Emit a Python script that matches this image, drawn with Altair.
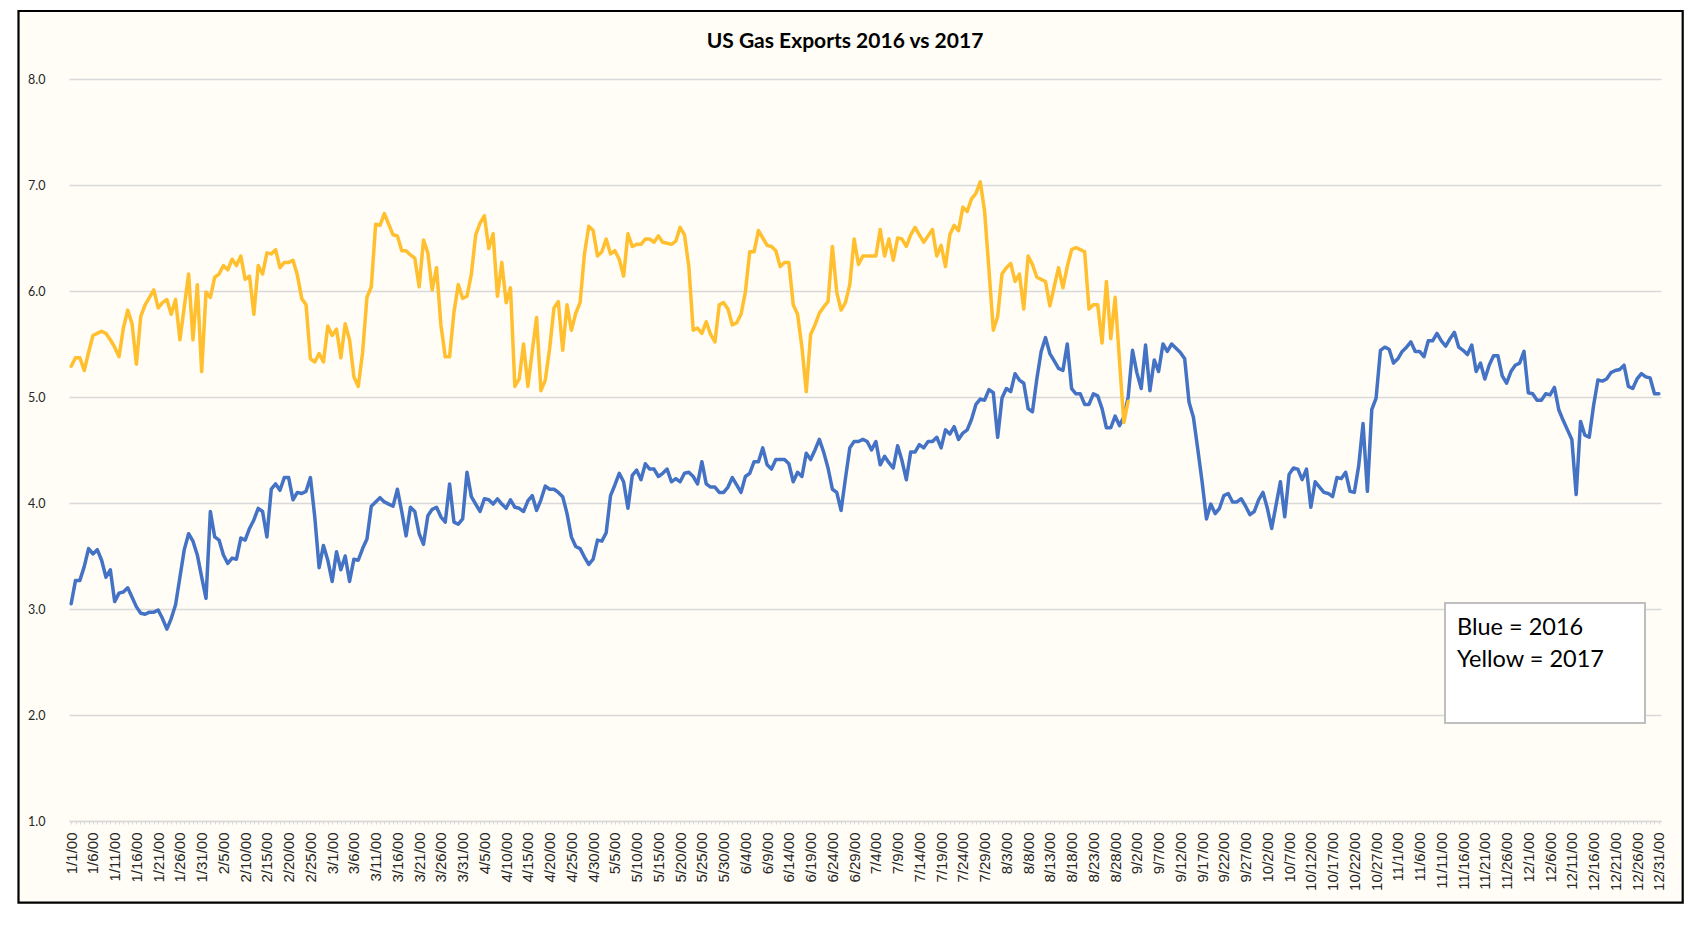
import json
import altair as alt
import pandas as pd

TITLE = "US Gas Exports 2016 vs 2017"
LEGEND_LINES = ["Blue = 2016", "Yellow = 2017"]

# Categories: one per day (Excel shows them as m/d/00)
DATES = [f"{d.month}/{d.day}/00" for d in pd.date_range("2000-01-01", "2000-12-31", freq="D")]
TICK_LABELS = DATES[::5]
Y_TICKS = [1, 2, 3, 4, 5, 6, 7, 8]

EXPORTS_2016 = [
    3.05, 3.27, 3.27, 3.40, 3.57, 3.52, 3.56, 3.46, 3.30, 3.37,
    3.07, 3.15, 3.16, 3.20, 3.11, 3.02, 2.96, 2.95, 2.97, 2.97,
    2.99, 2.91, 2.81, 2.91, 3.04, 3.30, 3.56, 3.71, 3.64, 3.51,
    3.30, 3.10, 3.92, 3.68, 3.65, 3.51, 3.43, 3.48, 3.47, 3.67,
    3.65, 3.76, 3.84, 3.95, 3.92, 3.68, 4.13, 4.18, 4.12, 4.24,
    4.24, 4.03, 4.10, 4.09, 4.11, 4.24, 3.87, 3.39, 3.60, 3.46,
    3.26, 3.54, 3.37, 3.50, 3.26, 3.47, 3.46, 3.57, 3.66, 3.97,
    4.01, 4.05, 4.01, 3.99, 3.97, 4.13, 3.92, 3.69, 3.96, 3.92,
    3.71, 3.61, 3.88, 3.94, 3.96, 3.87, 3.82, 4.18, 3.82, 3.80,
    3.85, 4.29, 4.06, 3.99, 3.92, 4.04, 4.03, 3.99, 4.04, 3.99,
    3.95, 4.03, 3.96, 3.95, 3.92, 4.02, 4.07, 3.93, 4.03, 4.16,
    4.13, 4.13, 4.10, 4.06, 3.90, 3.68, 3.59, 3.57, 3.49, 3.42,
    3.47, 3.65, 3.64, 3.72, 4.07, 4.17, 4.28, 4.20, 3.95, 4.26,
    4.31, 4.22, 4.37, 4.32, 4.32, 4.25, 4.28, 4.32, 4.20, 4.23,
    4.20, 4.28, 4.29, 4.25, 4.18, 4.39, 4.18, 4.15, 4.15, 4.10,
    4.10, 4.15, 4.24, 4.17, 4.10, 4.25, 4.28, 4.39, 4.39, 4.52,
    4.36, 4.32, 4.41, 4.41, 4.41, 4.37, 4.20, 4.29, 4.25, 4.47,
    4.41, 4.50, 4.60, 4.48, 4.33, 4.13, 4.10, 3.93, 4.23, 4.52,
    4.58, 4.58, 4.60, 4.58, 4.50, 4.58, 4.36, 4.44, 4.38, 4.33,
    4.54, 4.40, 4.22, 4.48, 4.48, 4.55, 4.52, 4.58, 4.58, 4.62,
    4.52, 4.69, 4.65, 4.72, 4.60, 4.66, 4.69, 4.79, 4.93, 4.98,
    4.97, 5.07, 5.04, 4.62, 4.99, 5.08, 5.05, 5.22, 5.16, 5.13,
    4.89, 4.86, 5.17, 5.43, 5.56, 5.41, 5.34, 5.27, 5.25, 5.50,
    5.08, 5.03, 5.03, 4.93, 4.93, 5.03, 5.01, 4.89, 4.71, 4.71,
    4.82, 4.73, 4.81, 5.00, 5.44, 5.23, 5.08, 5.49, 5.06, 5.35,
    5.24, 5.50, 5.43, 5.50, 5.46, 5.42, 5.36, 4.95, 4.81, 4.51,
    4.20, 3.85, 3.99, 3.90, 3.95, 4.07, 4.09, 4.01, 4.01, 4.04,
    3.97, 3.89, 3.92, 4.03, 4.10, 3.95, 3.76, 3.98, 4.20, 3.87,
    4.27, 4.33, 4.32, 4.22, 4.32, 3.96, 4.20, 4.15, 4.10, 4.09,
    4.06, 4.24, 4.23, 4.29, 4.11, 4.10, 4.35, 4.75, 4.11, 4.88,
    4.99, 5.44, 5.47, 5.45, 5.32, 5.36, 5.43, 5.47, 5.52, 5.43,
    5.43, 5.38, 5.53, 5.53, 5.60, 5.53, 5.48, 5.55, 5.61, 5.47,
    5.44, 5.40, 5.49, 5.24, 5.32, 5.17, 5.30, 5.39, 5.39, 5.20,
    5.13, 5.24, 5.30, 5.32, 5.43, 5.04, 5.03, 4.97, 4.97, 5.03,
    5.02, 5.09, 4.88, 4.78, 4.69, 4.60, 4.08, 4.77, 4.64, 4.62,
    4.92, 5.16, 5.15, 5.17, 5.23, 5.25, 5.26, 5.30, 5.10, 5.08,
    5.17, 5.22, 5.19, 5.18, 5.03, 5.03,
]

EXPORTS_2017 = [
    5.29, 5.37, 5.37, 5.25, 5.42, 5.58, 5.60, 5.62, 5.60, 5.54,
    5.47, 5.38, 5.65, 5.82, 5.69, 5.31, 5.76, 5.87, 5.94, 6.01,
    5.84, 5.89, 5.92, 5.78, 5.92, 5.54, 5.85, 6.16, 5.54, 6.06,
    5.24, 5.99, 5.94, 6.13, 6.16, 6.24, 6.20, 6.30, 6.24, 6.33,
    6.11, 6.14, 5.78, 6.24, 6.16, 6.36, 6.35, 6.39, 6.22, 6.27,
    6.27, 6.29, 6.15, 5.93, 5.87, 5.36, 5.33, 5.41, 5.33, 5.67,
    5.58, 5.64, 5.37, 5.69, 5.54, 5.19, 5.10, 5.42, 5.94, 6.04,
    6.63, 6.62, 6.73, 6.63, 6.53, 6.52, 6.38, 6.38, 6.34, 6.31,
    6.04, 6.48, 6.36, 6.01, 6.22, 5.68, 5.38, 5.38, 5.80, 6.06,
    5.93, 5.95, 6.16, 6.53, 6.64, 6.71, 6.40, 6.54, 5.95, 6.27,
    5.89, 6.03, 5.10, 5.17, 5.50, 5.10, 5.43, 5.75, 5.06, 5.16,
    5.46, 5.84, 5.90, 5.44, 5.87, 5.63, 5.79, 5.89, 6.35, 6.61,
    6.57, 6.33, 6.37, 6.49, 6.35, 6.38, 6.30, 6.14, 6.54, 6.42,
    6.44, 6.44, 6.49, 6.49, 6.46, 6.52, 6.46, 6.45, 6.44, 6.47,
    6.60, 6.53, 6.23, 5.63, 5.65, 5.60, 5.71, 5.59, 5.52, 5.87,
    5.89, 5.83, 5.68, 5.70, 5.78, 5.99, 6.37, 6.37, 6.57, 6.50,
    6.43, 6.42, 6.38, 6.23, 6.27, 6.27, 5.87, 5.78, 5.47, 5.05,
    5.59, 5.68, 5.79, 5.85, 5.90, 6.42, 5.99, 5.82, 5.89, 6.06,
    6.49, 6.25, 6.33, 6.33, 6.33, 6.33, 6.58, 6.33, 6.49, 6.29,
    6.50, 6.49, 6.42, 6.53, 6.60, 6.53, 6.46, 6.52, 6.58, 6.33,
    6.43, 6.23, 6.53, 6.62, 6.57, 6.79, 6.75, 6.87, 6.92, 7.03,
    6.75, 6.20, 5.63, 5.76, 6.16, 6.22, 6.26, 6.09, 6.16, 5.83,
    6.33, 6.25, 6.13, 6.11, 6.09, 5.86, 6.04, 6.22, 6.03, 6.23,
    6.39, 6.41, 6.39, 6.37, 5.83, 5.87, 5.87, 5.51, 6.09, 5.55,
    5.94, 5.35, 4.76, 4.96,
]

BLUE = "#4472C4"
YELLOW = "#FFBF2E"
CREAM = "#FFFDF5"
GRID = "#D9D9D9"

df16 = pd.DataFrame({"date": DATES, "value": EXPORTS_2016})
df17 = pd.DataFrame({"date": DATES[: len(EXPORTS_2017)], "value": EXPORTS_2017})
one = pd.DataFrame({"k": [0]})

label_expr = "indexof(" + json.dumps(TICK_LABELS) + ", datum.value) >= 0 ? datum.value : ''"

x_axis = alt.Axis(
    labelAngle=-90,
    labelExpr=label_expr,
    labelOverlap=False,
    labelFont="Liberation Sans",
    labelFontSize=15,
    labelColor="#262626",
    labelPadding=8,
    ticks=True,
    tickSize=3,
    tickColor=GRID,
    tickWidth=1,
    domainColor=GRID,
    domainWidth=1.5,
    grid=False,
    title=None,
)
y_axis = alt.Axis(
    values=Y_TICKS,
    format=".1f",
    labelFont="Lato",
    labelFontSize=12.5,
    labelColor="#262626",
    labelPadding=24,
    ticks=False,
    tickSize=0,
    domain=False,
    grid=True,
    gridColor=GRID,
    gridWidth=1.5,
    title=None,
)

x_enc = alt.X("date:O", sort=DATES, scale=alt.Scale(type="point", padding=0.5), axis=x_axis)
x_enc2 = alt.X("date:O", sort=DATES, scale=alt.Scale(type="point", padding=0.5))
y_enc = alt.Y("value:Q", scale=alt.Scale(domain=[1, 8], nice=False, zero=False), axis=y_axis)
y_enc2 = alt.Y("value:Q", scale=alt.Scale(domain=[1, 8], nice=False, zero=False))

line16 = alt.Chart(df16).mark_line(
    color=BLUE, strokeWidth=3.5, strokeJoin="round", strokeCap="round"
).encode(x=x_enc, y=y_enc)
line17 = alt.Chart(df17).mark_line(
    color=YELLOW, strokeWidth=3.5, strokeJoin="round", strokeCap="round"
).encode(x=x_enc2, y=y_enc2)

# white page outside the chart frame, and the black frame
strip_left = alt.Chart(one).mark_rect(fill="white", strokeWidth=0).encode(
    x=alt.value(-61), x2=alt.value(-51.5), y=alt.value(-71), y2=alt.value(825)
)
strip_top = alt.Chart(one).mark_rect(fill="white", strokeWidth=0).encode(
    x=alt.value(-61), x2=alt.value(1616), y=alt.value(-71), y2=alt.value(-69)
)
frame = alt.Chart(one).mark_rect(fill="transparent", stroke="#000000", strokeWidth=2.2).encode(
    x=alt.value(-50.5), x2=alt.value(1613.7), y=alt.value(-68), y2=alt.value(823.7)
)

title = alt.Chart(one).mark_text(
    text=TITLE, font="Lato", fontWeight="bold", fontSize=21, color="#000000",
    align="center", baseline="middle",
).encode(x=alt.value(776), y=alt.value(-37))

legend_box = alt.Chart(one).mark_rect(fill="white", stroke="#BFBFBF", strokeWidth=2).encode(
    x=alt.value(1376), x2=alt.value(1576), y=alt.value(524), y2=alt.value(644)
)
legend_t1 = alt.Chart(one).mark_text(
    text=LEGEND_LINES[0], font="Lato", fontSize=23.5, color="#000000",
    align="left", baseline="alphabetic",
).encode(x=alt.value(1388), y=alt.value(556))
legend_t2 = alt.Chart(one).mark_text(
    text=LEGEND_LINES[1], font="Lato", fontSize=23.5, color="#000000",
    align="left", baseline="alphabetic",
).encode(x=alt.value(1388), y=alt.value(587.5))

chart = alt.layer(
    line16, line17, strip_left, strip_top, frame, title, legend_box, legend_t1, legend_t2
).properties(
    width=1592,
    height=742,
    autosize=alt.AutoSizeParams(type="none"),
    padding={"left": 61, "top": 71, "right": 23, "bottom": 83},
    background=CREAM,
).configure_view(stroke="transparent")

chart.save("out.html", embed_options={"renderer": "svg", "actions": False})
